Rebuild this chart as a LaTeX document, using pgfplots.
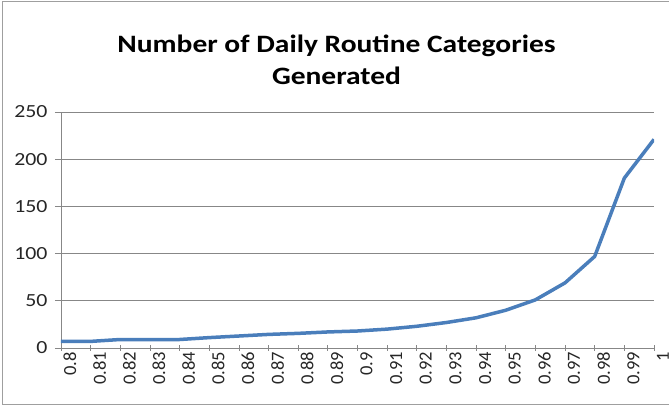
\documentclass[border=0pt]{standalone}
\usepackage{pgfplots}
\pgfplotsset{compat=1.18}
\usepackage{fontspec}
\setmainfont{Carlito}
\newfontfamily\widefont{Carlito}[FakeStretch=1.18]
\definecolor{excelblue}{HTML}{4A7EBB}
\definecolor{gridgray}{HTML}{878787}
\begin{document}
\begin{tikzpicture}
\useasboundingbox (0pt,0pt) rectangle (669pt,406pt);
\draw[gridgray!80, line width=1pt] (669pt,404.5pt) -- (2.5pt,404.5pt) -- (2.5pt,1.5pt) -- (669pt,1.5pt);
\node[font=\widefont\fontsize{25}{30}\selectfont\bfseries, anchor=base] at (336.5pt,353pt) {Number of Daily Routine Categories};
\node[font=\widefont\fontsize{25}{30}\selectfont\bfseries, anchor=base] at (336.5pt,321pt) {Generated};
\begin{axis}[
  at={(61pt,58pt)}, anchor=south west,
  scale only axis, width=593pt, height=236pt,
  xmin=0, xmax=20, ymin=0, ymax=250,
  axis x line*=bottom, axis y line*=left,
  axis line style={gridgray, line width=0.8pt, -},
  xtick={0,...,20},
  xticklabels={0.8,0.81,0.82,0.83,0.84,0.85,0.86,0.87,0.88,0.89,0.9,0.91,0.92,0.93,0.94,0.95,0.96,0.97,0.98,0.99,1},
  ytick={0,50,100,150,200,250},
  ymajorgrids,
  major grid style={gridgray, line width=0.8pt},
  tick style={gridgray, line width=0.8pt},
  major tick length=6pt,
  xtick align=center, ytick align=outside,
  /pgf/number format/assume math mode=true,
  xticklabel style={font=\fontsize{18.5}{20}\selectfont, text=black!85, rotate=90, anchor=east, inner sep=1pt, yshift=-9pt},
  yticklabel style={font=\widefont\fontsize{18.5}{20}\selectfont, text=black!85, xshift=-4pt},
]
\addplot[excelblue, line width=3.5pt, line join=round] coordinates {
(0,7) (1,7) (2,9) (3,9) (4,9) (5,11) (6,12.7) (7,14.4) (8,15.5) (9,17) (10,18)
(11,20) (12,23) (13,27) (14,32) (15,40) (16,51) (17,69) (18,97) (19,180) (20,221)
};
\end{axis}
\end{tikzpicture}
\end{document}
